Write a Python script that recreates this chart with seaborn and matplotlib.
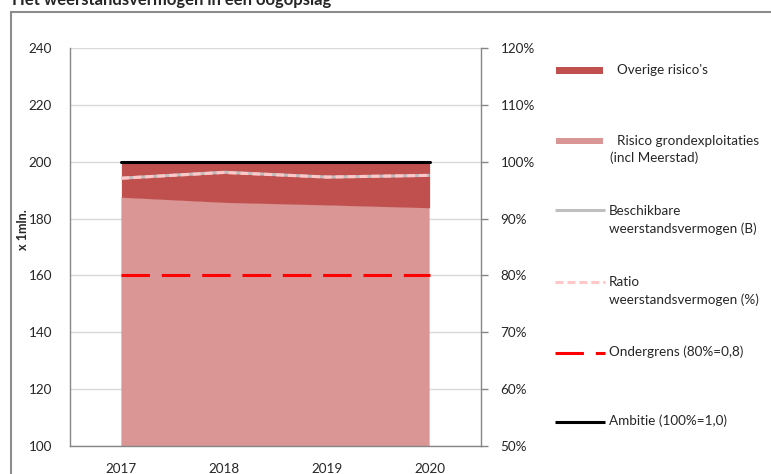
import numpy as np
import matplotlib
matplotlib.use("Agg")
import matplotlib.pyplot as plt
from matplotlib.patches import Rectangle
from matplotlib.lines import Line2D
from matplotlib.ticker import FixedLocator, FuncFormatter
import seaborn as sns

# --- data (x 1 mln. / ratio) ---
years = ["2017", "2018", "2019", "2020"]
risico_grondexploitaties = [187.5, 185.7, 184.8, 183.8]
overige_risicos = [12.5, 14.3, 15.2, 16.2]
beschikbaar = [194.2, 196.3, 194.6, 195.2]
ratio = [0.971, 0.981, 0.973, 0.976]
ondergrens = [0.8, 0.8, 0.8, 0.8]
ambitie = [1.0, 1.0, 1.0, 1.0]
left_ticks = [100, 120, 140, 160, 180, 200, 220, 240]
right_ticks = [0.5, 0.6, 0.7, 0.8, 0.9, 1.0, 1.1, 1.2]

sns.set_style("white")
plt.rcParams["font.family"] = ["Lato", "DejaVu Sans"]
FS = 9.7

C_DARK = "#c0504d"
C_LIGHT = "#d99694"
C_GRAY = "#bfbfbf"
C_PINK = "#ffc7c7"
C_RED = "#ff0000"
C_AXIS = "#868686"

W, H = 771, 474
fig = plt.figure(figsize=(W / 100, H / 100), dpi=100)


def fx(px):
    return px / W


def fy(py):
    return 1 - py / H


ax = fig.add_axes([fx(70), fy(446), fx(481) - fx(70), fy(48) - fy(446)])
x = np.arange(len(years))

# stacked risk areas
ax.stackplot(x, risico_grondexploitaties, overige_risicos,
             colors=[C_LIGHT, C_DARK], linewidth=0, zorder=2)
sns.lineplot(x=x, y=beschikbaar, ax=ax, color=C_GRAY, lw=2.2,
             solid_capstyle="butt", zorder=3)

ax.set_xlim(-0.5, len(years) - 0.5)
ax.set_ylim(100, 240)
ax.yaxis.set_major_locator(FixedLocator(left_ticks))
ax.grid(axis="y", color="#d9d9d9", lw=1.0, zorder=0)
ax.grid(axis="x", visible=False)
ax.set_axisbelow(True)

ax.set_xticks(x)
ax.set_xticklabels(years, fontsize=FS)
ax.set_xticks(np.arange(-0.5, len(years)), minor=True)
ax.tick_params(axis="x", which="major", length=0, pad=12)
ax.tick_params(axis="x", which="minor", length=5, width=1, color=C_AXIS,
               direction="out")
ax.tick_params(axis="y", length=0, pad=13, labelsize=FS)
for s in ["top", "right"]:
    ax.spines[s].set_visible(False)
for s in ["left", "bottom"]:
    ax.spines[s].set_color(C_AXIS)
    ax.spines[s].set_linewidth(1.0)

# ratio axis
ax2 = ax.twinx()
ax2.set_ylim(0.5, 1.2)
ax2.yaxis.set_major_locator(FixedLocator(right_ticks))
ax2.yaxis.set_major_formatter(FuncFormatter(lambda v, p: f"{v * 100:.0f}%"))
ax2.tick_params(axis="y", length=5, width=1, color=C_AXIS, pad=9,
                labelsize=FS, direction="out")
ax2.grid(False)
for s in ["top", "left", "bottom"]:
    ax2.spines[s].set_visible(False)
ax2.spines["right"].set_color(C_AXIS)
ax2.spines["right"].set_linewidth(1.0)

sns.lineplot(x=x, y=ratio, ax=ax2, color=C_PINK, lw=2.2, zorder=4)
ax2.lines[-1].set_dashes((2.6, 1.3))
sns.lineplot(x=x, y=ondergrens, ax=ax2, color=C_RED, lw=2.2, zorder=4)
ax2.lines[-1].set_dashes((9.3, 3.9))
sns.lineplot(x=x, y=ambitie, ax=ax2, color="black", lw=2.2, zorder=5)

fig.text(fx(23), fy(230), "x 1mln.", rotation=90, ha="center", va="center",
         fontsize=FS - 0.6, fontweight="bold")

# legend
def leg_line(y, color, dashes=None):
    ln = Line2D([fx(555), fx(605)], [fy(y), fy(y)], transform=fig.transFigure,
                color=color, lw=2.2, solid_capstyle="butt")
    if dashes:
        ln.set_dashes(dashes)
    fig.add_artist(ln)


def leg_rect(y, color):
    fig.add_artist(Rectangle((fx(556), fy(y + 3.3)), fx(603) - fx(556),
                             6.6 / H, transform=fig.transFigure,
                             facecolor=color, edgecolor="none"))


def leg_text(xp, y, s):
    fig.text(fx(xp), fy(y), s, ha="left", va="center", fontsize=FS)


leg_rect(70.5, C_DARK)
leg_text(617, 70, "Overige risico's")
leg_rect(141, C_LIGHT)
leg_text(617, 141, "Risico grondexploitaties")
leg_text(610, 158, "(incl Meerstad)")
leg_line(210, C_GRAY)
leg_text(609, 211, "Beschikbare")
leg_text(609, 229, "weerstandsvermogen (B)")
leg_line(282, C_PINK, (2.6, 1.3))
leg_text(609, 282, "Ratio")
leg_text(609, 300, "weerstandsvermogen (%)")
leg_line(353, C_RED, (9.3, 3.9))
leg_text(609, 352, "Ondergrens (80%=0,8)")
leg_line(422, "black")
leg_text(609, 421, "Ambitie (100%=1,0)")

# frame and heading
fig.add_artist(Rectangle((fx(11), -0.1), 2, fy(12) + 0.1,
                         transform=fig.transFigure, facecolor="none",
                         edgecolor="#8c8c8c", lw=1.5))
fig.text(fx(12), fy(5), "Het weerstandsvermogen in een oogopslag",
         ha="left", va="baseline", fontsize=12, fontweight="bold")

fig.savefig("out.png", dpi=100)
